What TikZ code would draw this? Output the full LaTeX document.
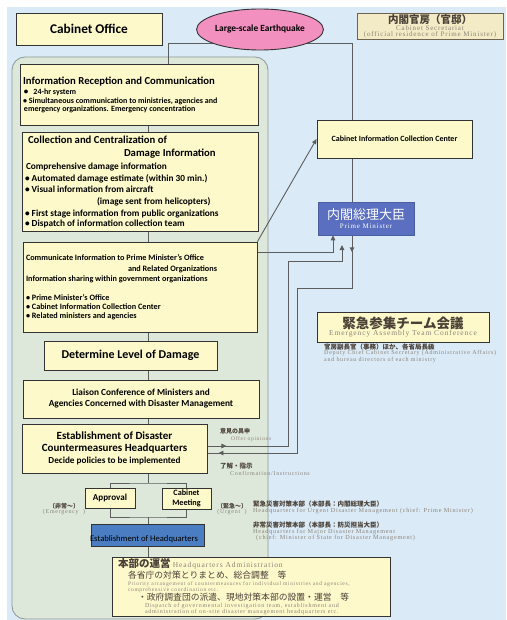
\documentclass[tikz,border=0pt]{standalone}
\usepackage{fontspec}
\setmainfont{Carlito}
\newfontfamily\jpfont{Noto Sans CJK JP}
\newfontfamily\subfont{Liberation Serif}[LetterSpace=12]
\usetikzlibrary{arrows.meta, shapes.geometric, decorations.markings, backgrounds}
\lineskiplimit=-20pt

\definecolor{pagebg}{HTML}{DAEAF7}
\definecolor{panelbg}{HTML}{DDE8DB}
\definecolor{panelline}{HTML}{8D9894}
\definecolor{boxfill}{HTML}{FDF9CB}
\definecolor{boxedge}{HTML}{333333}
\definecolor{linkgrey}{HTML}{5D5D5D}
\definecolor{quakepink}{HTML}{F291C0}
\definecolor{pmblue}{HTML}{5A6FBF}
\definecolor{hqblue}{HTML}{4A7DC1}
\definecolor{secfill}{HTML}{F2EBC5}
\definecolor{secedge}{HTML}{6D6350}
\definecolor{jpdark}{HTML}{4A4036}
\definecolor{engrey}{HTML}{8C8478}

\newcommand\sz[2]{\fontsize{#1}{#2}\selectfont}

\tikzset{
  box/.style={draw=boxedge, fill=boxfill, line width=0.9pt, inner xsep=3pt, inner ysep=0pt},
  link/.style={draw=linkgrey, line width=0.9pt},
  tip/.style={-{Triangle[length=5pt, width=4.5pt]}},
  midtip/.style={postaction={decorate, decoration={markings,
      mark=at position #1 with {\arrow{Triangle[length=5pt, width=4.5pt]}}}}},
  note/.style={inner sep=0pt, text width=#1, align=flush left},
}

\begin{document}
\begin{tikzpicture}[x=1pt, y=-1pt]
\useasboundingbox (0,0) rectangle (506,620);

% top row
\node[box, minimum width=146pt, minimum height=32pt, font=\bfseries\sz{13.3}{15}] (cabinet) at (89,29) {Cabinet Office};
\node[ellipse, draw=boxedge, fill=quakepink, line width=0.9pt, minimum width=124pt, minimum height=41pt,
      inner sep=0pt, font=\bfseries\sz{9.4}{11}] (quake) at (260,29.5) {Large-scale Earthquake};
\node[draw=secedge, fill=secfill, line width=0.9pt, minimum width=146pt, minimum height=26pt, inner sep=0pt,
      text width=146pt, align=flush center] (secretariat) at (430,26)
  {\jpfont\bfseries\color{jpdark}\sz{10.5}{10}内閣官房（官邸）\\
   \subfont\mdseries\color{engrey}\sz{7}{6.5}Cabinet Secretariat\\
   \sz{7}{6}(official residence of Prime Minister)\par};

% left column
\node[box, minimum width=238pt, minimum height=61pt, text width=232pt, align=flush left] (info) at (139,94.5)
  {\bfseries\sz{10.7}{12}Information Reception and Communication\\
   \sz{8}{10}\hspace*{1pt}\sz{9}{10}•\sz{8}{10}\hspace{5pt}24-hr system\\
   \sz{8}{9}• Simultaneous communication to ministries, agencies and\\
   \sz{8}{8}\hspace*{1pt}emergency organizations. Emergency concentration\par\vspace*{8pt}};
\node[box, minimum width=236pt, minimum height=99pt, text width=230pt, align=flush left] (collect) at (140,181.5)
  {\bfseries\sz{10.7}{12}\hspace*{3pt}Collection and Centralization of\\
   \sz{10.7}{13}\hspace*{99pt}Damage Information\\
   \sz{9.3}{13}\hspace*{1pt}Comprehensive damage information\\
   \sz{9.3}{12}• Automated damage estimate (within 30 min.)\\
   \sz{9.3}{11}• Visual information from aircraft\\
   \sz{9.3}{12}\hspace*{72pt}(image sent from helicopters)\\
   \sz{9.3}{12}• First stage information from public organizations\\
   \sz{9.3}{10}• Dispatch of information collection team\par};
\node[box, minimum width=234pt, minimum height=90pt, text width=228pt, align=flush left] (comm) at (140,287)
  {\bfseries\sz{8.2}{10}Communicate Information to Prime Minister's Office\\
   \sz{8.2}{11}\hspace*{102pt}and Related Organizations\\
   \sz{8.2}{10}Information sharing within government organizations\\
   \sz{8.2}{19}• Prime Minister's Office\\
   \sz{8.2}{9}• Cabinet Information Collection Center\\
   \sz{8.2}{9}• Related ministers and agencies\par};
\node[box, minimum width=173pt, minimum height=29pt, font=\bfseries\sz{12}{14}] (level) at (130.5,355.5) {Determine Level of Damage};
\node[box, minimum width=236pt, minimum height=38pt, text width=230pt, align=flush center] (liaison) at (141,399)
  {\bfseries\sz{9.3}{11}Liaison Conference of Ministers and\\ Agencies Concerned with Disaster Management\par};
\node[box, minimum width=185pt, minimum height=49pt, text width=179pt, align=flush center] (hq) at (114.5,448.5)
  {\bfseries\sz{11}{12}Establishment of Disaster\\ Countermeasures Headquarters\\
   \sz{9.2}{12}Decide policies to be implemented\par};
\node[box, minimum width=50pt, minimum height=20pt, inner xsep=0pt, font=\bfseries\sz{9.1}{10}] (approval) at (110,498) {Approval};
\node[box, minimum width=49pt, minimum height=21pt, inner xsep=0pt, text width=49pt, align=flush center] (cabmeet) at (186.5,498.5)
  {\bfseries\sz{8.2}{10}Cabinet\\ Meeting\par};
\node[draw=boxedge, fill=hqblue, line width=0.9pt, minimum width=113pt, minimum height=22pt, inner sep=0pt,
      label={[font=\sz{8.6}{10}, xshift=-3.5pt, yshift=-4pt]center:Establishment of Headquarters}] (estab) at (147.5,535) {};
\node[box, minimum width=278pt, minimum height=59pt, text width=272pt, align=flush left, text=jpdark] (admin) at (251,586.5)
  {\jpfont\bfseries\sz{10.5}{12}\hspace*{3pt}本部の運営 {\subfont\mdseries\sz{7.5}{8}\color{engrey}Headquarters Administration}\\
   \jpfont\mdseries\sz{8.8}{11}\hspace*{13pt}各省庁の対策とりまとめ、総合調整　等\\
   \subfont\color{engrey}\sz{5.5}{7}\hspace*{13pt}Priority arrangement of countermeasures for individual ministries and agencies,\\
   \sz{5.5}{4.5}\hspace*{13pt}comprehensive coordination etc.\\
   \jpfont\color{jpdark}\sz{8.8}{9}\hspace*{23pt}・政府調査団の派遣、現地対策本部の設置・運営　等\\
   \subfont\color{engrey}\sz{6}{7}\hspace*{30pt}Dispatch of governmental investigation team, establishment and\\
   \sz{6}{4.5}\hspace*{30pt}administration of on-site disaster management headquarters etc.\par};

% right column
\node[box, minimum width=155pt, minimum height=38pt, font=\bfseries\sz{8}{9}] (cicc) at (394.5,139) {Cabinet Information Collection Center};
\node[draw=pmblue!85!black, fill=pmblue, line width=0.6pt, minimum width=96pt, minimum height=33pt, inner sep=0pt,
      text width=96pt, align=flush center, text=white] (pm) at (366,218.5)
  {\jpfont\sz{13}{13}内閣総理大臣\\ \subfont\sz{7}{8.5}Prime Minister\par};
\node[box, minimum width=172pt, minimum height=30pt, text width=166pt, align=flush center] (team) at (403,327)
  {\jpfont\bfseries\color{jpdark}\sz{13.5}{14}緊急参集チーム会議\\
   \subfont\mdseries\color{engrey}\sz{7.5}{7.5}Emergency Assembly Team Conference\par};
\node[note=200pt, anchor=north west] (teamnote) at (324,344)
  {\jpfont\bfseries\color{jpdark}\sz{6.5}{6}官房副長官（事務）ほか、各省局長級\\
   \subfont\mdseries\color{engrey}\sz{6}{5}Deputy Chief Cabinet Secretary (Administrative Affairs)\\
   \sz{6}{5.5}and bureau directors of each ministry\par};

% small labels
\node[note=80pt, anchor=north west] (opinion) at (220,428)
  {\jpfont\bfseries\color{jpdark}\sz{6}{6}意見の具申\\
   \subfont\mdseries\color{engrey}\sz{5.5}{7.5}\hspace*{11pt}Offer opinions\par};
\node[note=100pt, anchor=north west] (confirm) at (220,462.5)
  {\jpfont\bfseries\color{jpdark}\sz{6.5}{6}了解・指示\\
   \subfont\mdseries\color{engrey}\sz{6}{7}\hspace*{10pt}Confirmation/Instructions\par};
\node[inner sep=0pt, text width=60pt, align=flush center] (emerg) at (64,509)
  {\jpfont\bfseries\color{jpdark}\sz{6}{6}〔非常～〕\\ \subfont\mdseries\color{engrey}\sz{6}{5.5}(Emergency ~)\par};
\node[inner sep=0pt, text width=50pt, align=flush center] (urgent) at (232,509)
  {\jpfont\bfseries\color{jpdark}\sz{6}{6}〔緊急～〕\\ \subfont\mdseries\color{engrey}\sz{6}{5.5}(Urgent ~)\par};
\node[note=260pt, anchor=north west] (urgenthq) at (253,501)
  {\jpfont\bfseries\color{jpdark}\sz{6.5}{6}緊急災害対策本部（本部長：内閣総理大臣）\\
   \subfont\mdseries\color{engrey}\sz{6.2}{5.5}Headquarters for Urgent Disaster Management (chief: Prime Minister)\par};
\node[note=260pt, anchor=north west] (majorhq) at (253,521.5)
  {\jpfont\bfseries\color{jpdark}\sz{6.5}{6}非常災害対策本部（本部長：防災担当大臣）\\
   \subfont\mdseries\color{engrey}\sz{6.2}{6}Headquarters for Major Disaster Management\\
   \hspace*{3pt}(chief: Minister of State for Disaster Management)\par};

% bends of the connectors
\coordinate (quakeleft) at (168,43);
\coordinate (quakeright) at (352,43);
\coordinate (column) at (148,0);
\coordinate (commbend) at (333,252);
\coordinate (opinbend) at (288,446);
\coordinate (opintop) at (342,261);
\coordinate (opintip) at (342,245);
\coordinate (confbend) at (297,288);
\coordinate (confdown) at (297,453);
\coordinate (split) at (148,483);
\coordinate (join) at (148,517);

\begin{scope}[on background layer]
  \fill[white] (0,0) rectangle (506,620);
  \fill[pagebg] (7,7) rectangle (506,620);
  \draw[panelline, fill=panelbg, line width=0.8pt, rounded corners=13pt] (12,57) rectangle (268,619);

  \draw[link] (quakeleft |- info.north) -- (quakeleft) -- (quakeright) -- (quakeright |- cicc.north);
  \draw[link] (quakeright |- cicc.south) -- (quakeright |- pm.north);
  \foreach \a/\b in {info/collect, collect/comm, comm/level, level/liaison, liaison/hq}
    \draw[link] (column |- \a.south) -- (column |- \b.north);
  \draw[link] (column |- hq.south) -- (split);
  \draw[link] (approval.north) |- (split) -| (cabmeet.north);
  \draw[link] (approval.south) |- (join) -| (cabmeet.south);
  \draw[link] (join) -- (column |- estab.north);
  \draw[link] (column |- estab.south) -- (column |- admin.north);

  % reports to the Prime Minister and back
  \draw[link, tip] (comm.north east) -- (cicc.west);
  \draw[link, tip] (comm.east |- commbend) -- (commbend) -- (commbend |- pm.south);
  \draw[link, tip, midtip=19pt] (hq.east |- opinbend) -- (opinbend) |- (opintop) -- (opintip);
  \draw[link, midtip=17pt, midtip=-11pt] (quakeright |- pm.south) -- (quakeright |- confbend) -- (confbend)
    -- (confdown) -- (hq.east |- confdown);
\end{scope}
\end{tikzpicture}
\end{document}
